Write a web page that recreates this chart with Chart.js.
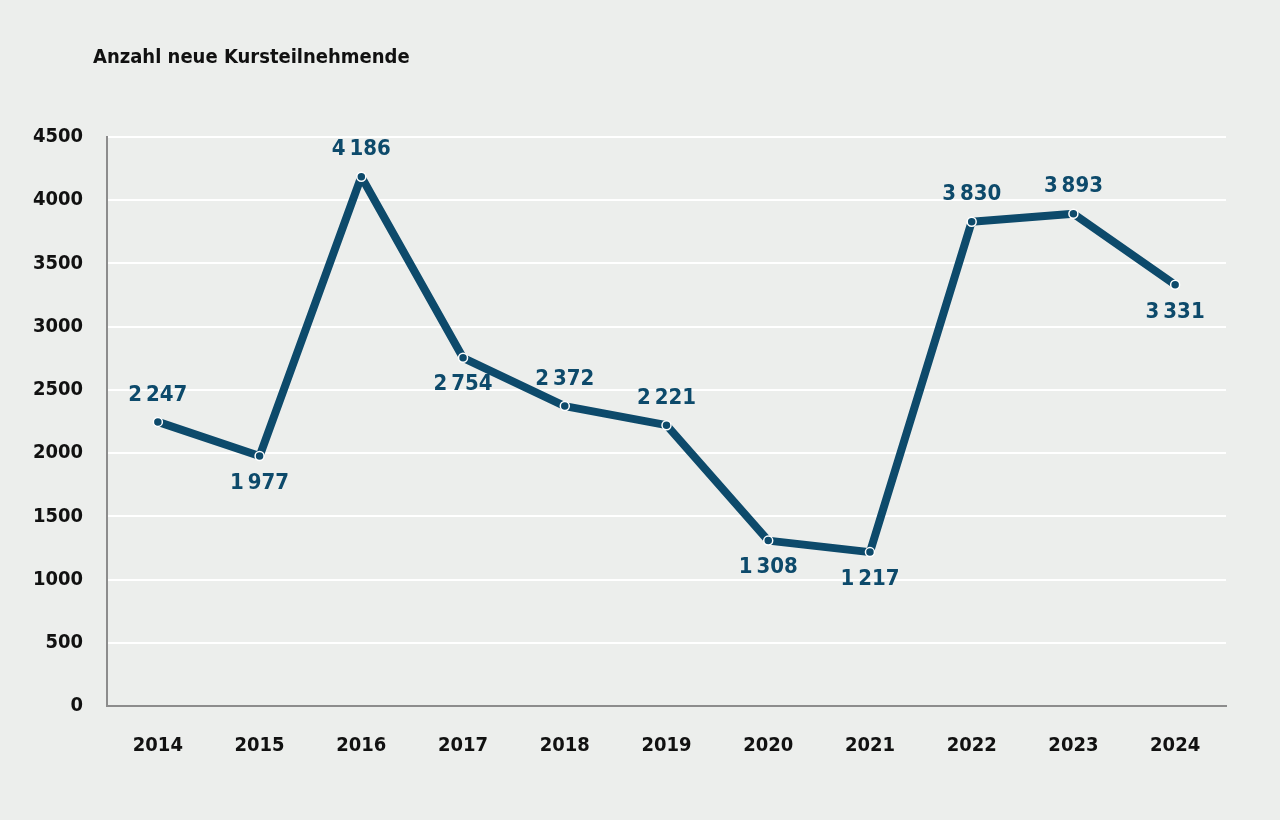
<!DOCTYPE html>
<html>
<head>
<meta charset="utf-8">
<script src="https://cdn.jsdelivr.net/npm/chart.js@4"></script>
<style>
  html, body { margin: 0; padding: 0; background: #eceeec; }
  #wrap { width: 1280px; height: 820px; position: relative; }
</style>
</head>
<body>
<div id="wrap"><canvas id="chart" width="1280" height="820"></canvas></div>
<script>
// Daten
const years = ['2014', '2015', '2016', '2017', '2018', '2019', '2020', '2021', '2022', '2023', '2024'];
const participants = [2247, 1977, 4186, 2754, 2372, 2221, 1308, 1217, 3830, 3893, 3331];
// Position der Beschriftung: oben (1) oder unten (-1)
const labelSide = [1, -1, 1, -1, 1, 1, -1, -1, 1, 1, -1];
const yTicks = [0, 500, 1000, 1500, 2000, 2500, 3000, 3500, 4000, 4500];

const titleText = 'Anzahl neue Kursteilnehmende';
const lineColor = '#0d4a6b';
const fontFamily = '"DejaVu Sans Condensed", "Liberation Sans Narrow", sans-serif';

function formatNumber(n) {
    // schmales Leerzeichen als Tausendertrenner
    return String(n).replace(/\B(?=(\d{3})+(?!\d))/g, '\u2009');
}

// Titel oben links
const titlePlugin = {
    id: 'titleText',
    afterDraw(chart) {
        const ctx = chart.ctx;
        ctx.save();
        ctx.font = 'bold 20px ' + fontFamily;
        ctx.fillStyle = '#111';
        ctx.textBaseline = 'middle';
        ctx.textAlign = 'left';
        ctx.fillText(titleText, 93, 58);
        ctx.restore();
    }
};

// Werte an den Punkten
const valueLabels = {
    id: 'valueLabels',
    afterDatasetsDraw(chart) {
        const ctx = chart.ctx;
        const meta = chart.getDatasetMeta(0);
        ctx.save();
        ctx.font = '600 22px ' + fontFamily;
        ctx.fillStyle = lineColor;
        ctx.textAlign = 'center';
        ctx.textBaseline = 'middle';
        meta.data.forEach((pt, i) => {
            ctx.fillText(formatNumber(participants[i]), pt.x, pt.y - labelSide[i] * 27);
        });
        ctx.restore();
    }
};

const ctx = document.getElementById('chart');
new Chart(ctx, {
    type: 'line',
    data: {
        labels: years,
        datasets: [{
            data: participants,
            borderColor: lineColor,
            borderWidth: 8,
            borderJoinStyle: 'round',
            borderCapStyle: 'round',
            pointRadius: 4.5,
            pointBackgroundColor: lineColor,
            pointBorderColor: '#ffffff',
            pointBorderWidth: 1.5,
            tension: 0,
            fill: false
        }]
    },
    options: {
        responsive: false,
        animation: false,
        devicePixelRatio: 1,
        layout: { padding: { left: 0, top: 137, right: 54, bottom: 0 } },
        plugins: {
            legend: { display: false },
            tooltip: { enabled: false }
        },
        scales: {
            x: {
                offset: true,
                grid: { display: false, drawTicks: false },
                border: { display: true, color: '#8c8c8c', width: 2 },
                ticks: {
                    color: '#111',
                    padding: 28,
                    font: { family: fontFamily, size: 20, weight: 'bold' }
                },
                afterFit(scale) { scale.height = 114; }
            },
            y: {
                min: 0,
                max: 4500,
                afterBuildTicks(scale) { scale.ticks = yTicks.map(v => ({ value: v })); },
                grid: { color: '#ffffff', lineWidth: 2, drawTicks: false },
                border: { display: true, color: '#8c8c8c', width: 2 },
                ticks: {
                    color: '#111',
                    padding: 24,
                    font: { family: fontFamily, size: 20, weight: 'bold' },
                    callback: v => String(v)
                },
                afterFit(scale) { scale.width = 107; }
            }
        }
    },
    plugins: [titlePlugin, valueLabels]
});
</script>
</body>
</html>
